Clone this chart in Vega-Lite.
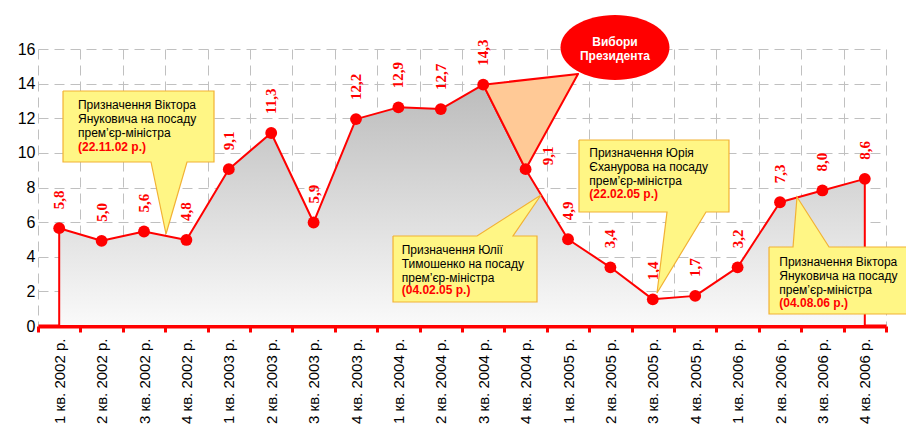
{
  "$schema": "https://vega.github.io/schema/vega-lite/v6.json",
  "width": 848,
  "height": 277,
  "autosize": "none",
  "padding": {"left": 38, "top": 49, "right": 20, "bottom": 99},
  "background": "white",
  "config": {
    "view": {"stroke": null},
    "font": "Liberation Sans",
    "axisY": {
      "title": null, "tickCount": 8,
      "grid": true, "gridColor": "#c0c0c0", "gridDash": [10, 6], "gridWidth": 1,
      "domain": false, "ticks": false, "labelOverlap": false,
      "labelFontSize": 16, "labelColor": "#000000", "labelPadding": 3,
      "labelFont": "Liberation Sans"
    }
  },
  "datasets": {
    "series": [
      {"q": "1 кв. 2002 р.", "value": 5.65, "label": "5,8"},
      {"q": "2 кв. 2002 р.", "value": 4.92, "label": "5,0"},
      {"q": "3 кв. 2002 р.", "value": 5.46, "label": "5,6"},
      {"q": "4 кв. 2002 р.", "value": 4.97, "label": "4,8"},
      {"q": "1 кв. 2003 р.", "value": 9.06, "label": "9,1"},
      {"q": "2 кв. 2003 р.", "value": 11.15, "label": "11,3"},
      {"q": "3 кв. 2003 р.", "value": 5.98, "label": "5,9"},
      {"q": "4 кв. 2003 р.", "value": 11.95, "label": "12,2"},
      {"q": "1 кв. 2004 р.", "value": 12.63, "label": "12,9"},
      {"q": "2 кв. 2004 р.", "value": 12.53, "label": "12,7"},
      {"q": "3 кв. 2004 р.", "value": 13.94, "label": "14,3"},
      {"q": "4 кв. 2004 р.", "value": 9.06, "label": "9,1"},
      {"q": "1 кв. 2005 р.", "value": 5.01, "label": "4,9"},
      {"q": "2 кв. 2005 р.", "value": 3.39, "label": "3,4"},
      {"q": "3 кв. 2005 р.", "value": 1.54, "label": "1,4"},
      {"q": "4 кв. 2005 р.", "value": 1.74, "label": "1,7"},
      {"q": "1 кв. 2006 р.", "value": 3.39, "label": "3,2"},
      {"q": "2 кв. 2006 р.", "value": 7.15, "label": "7,3"},
      {"q": "3 кв. 2006 р.", "value": 7.83, "label": "8,0"},
      {"q": "4 кв. 2006 р.", "value": 8.5, "label": "8,6"}
    ],
    "callouts": [
      {"id": "c1", "o": 0, "x": 0.59, "y": 13.574},
      {"id": "c1", "o": 1, "x": 4.151, "y": 13.574},
      {"id": "c1", "o": 2, "x": 4.151, "y": 9.473},
      {"id": "c1", "o": 3, "x": 3.514, "y": 9.473},
      {"id": "c1", "o": 4, "x": 3.019, "y": 5.314},
      {"id": "c1", "o": 5, "x": 2.665, "y": 9.473},
      {"id": "c1", "o": 6, "x": 0.59, "y": 9.473},
      {"id": "c1", "o": 7, "x": 0.59, "y": 13.574},
      {"id": "c2", "o": 0, "x": 8.373, "y": 5.199},
      {"id": "c2", "o": 1, "x": 10.354, "y": 5.199},
      {"id": "c2", "o": 2, "x": 11.863, "y": 7.567},
      {"id": "c2", "o": 3, "x": 11.203, "y": 5.199},
      {"id": "c2", "o": 4, "x": 11.769, "y": 5.199},
      {"id": "c2", "o": 5, "x": 11.769, "y": 1.386},
      {"id": "c2", "o": 6, "x": 8.373, "y": 1.386},
      {"id": "c2", "o": 7, "x": 8.373, "y": 5.199},
      {"id": "c3", "o": 0, "x": 12.759, "y": 10.744},
      {"id": "c3", "o": 1, "x": 16.297, "y": 10.744},
      {"id": "c3", "o": 2, "x": 16.297, "y": 6.585},
      {"id": "c3", "o": 3, "x": 15.755, "y": 6.585},
      {"id": "c3", "o": 4, "x": 14.599, "y": 1.906},
      {"id": "c3", "o": 5, "x": 14.835, "y": 6.585},
      {"id": "c3", "o": 6, "x": 12.759, "y": 6.585},
      {"id": "c3", "o": 7, "x": 12.759, "y": 10.744},
      {"id": "c4", "o": 0, "x": 17.241, "y": 4.563},
      {"id": "c4", "o": 1, "x": 17.807, "y": 4.563},
      {"id": "c4", "o": 2, "x": 17.901, "y": 7.451},
      {"id": "c4", "o": 3, "x": 18.656, "y": 4.563},
      {"id": "c4", "o": 4, "x": 20.566, "y": 4.563},
      {"id": "c4", "o": 5, "x": 20.566, "y": 0.693},
      {"id": "c4", "o": 6, "x": 17.241, "y": 0.693},
      {"id": "c4", "o": 7, "x": 17.241, "y": 4.563}
    ],
    "triangle": [
      {"o": 0, "x": 10.5, "y": 13.94},
      {"o": 1, "x": 11.5, "y": 9.06},
      {"o": 2, "x": 12.736, "y": 14.556},
      {"o": 3, "x": 10.5, "y": 13.94}
    ],
    "one": [{}]
  },
  "resolve": {"scale": {"x": "independent"}},
  "layer": [
    {
      "data": {"name": "series"},
      "mark": {
        "type": "area",
        "stroke": "#FF0000",
        "strokeWidth": 2,
        "strokeJoin": "round",
        "fill": {
          "gradient": "linear",
          "x1": 0, "y1": 0, "x2": 0, "y2": 1,
          "stops": [
            {"offset": 0, "color": "#bcbcbc"},
            {"offset": 1, "color": "#fafafa"}
          ]
        }
      },
      "encoding": {
        "x": {"field": "q", "type": "ordinal", "sort": null, "scale": {"type": "point", "padding": 0.5}, "axis": null},
        "y": {"field": "value", "type": "quantitative", "scale": {"domain": [0, 16], "nice": false, "zero": true}}
      }
    },
    {
      "data": {"name": "triangle"},
      "mark": {"type": "line", "fill": "#FFC996", "stroke": "#FF0000", "strokeWidth": 2, "strokeJoin": "round"},
      "encoding": {
        "x": {"field": "x", "type": "quantitative", "scale": {"domain": [0, 20], "nice": false, "zero": false}, "axis": null},
        "y": {"field": "y", "type": "quantitative", "scale": {"domain": [0, 16], "nice": false}},
        "order": {"field": "o", "type": "quantitative"}
      }
    },
    {
      "data": {"name": "series"},
      "mark": {"type": "circle", "size": 140, "color": "#FF0000", "opacity": 1},
      "encoding": {
        "x": {
          "field": "q", "type": "ordinal", "sort": null,
          "scale": {"type": "band", "paddingInner": 0, "paddingOuter": 0},
          "axis": {
            "title": null, "tickBand": "extent",
            "grid": true, "gridColor": "#c0c0c0", "gridDash": [10, 6], "gridWidth": 1,
            "domainColor": "#FF0000", "domainWidth": 4,
            "tickColor": "#FF0000", "tickWidth": 3, "tickSize": 6,
            "labelAngle": 270, "labelAlign": "right", "labelBaseline": "middle",
            "labelFontSize": 15, "labelColor": "#000000", "labelPadding": 6,
            "labelFont": "Liberation Sans", "labelOverlap": false
          }
        },
        "y": {"field": "value", "type": "quantitative", "scale": {"domain": [0, 16], "nice": false}}
      }
    },
    {
      "data": {"name": "series"},
      "mark": {"type": "text", "angle": 270, "align": "left", "baseline": "middle", "dx": 19, "font": "Liberation Serif", "fontSize": 15, "fontWeight": "bold", "color": "#FF0000"},
      "encoding": {
        "x": {"field": "q", "type": "ordinal", "sort": null, "scale": {"type": "band", "paddingInner": 0, "paddingOuter": 0}, "axis": null},
        "y": {"field": "value", "type": "quantitative", "scale": {"domain": [0, 16], "nice": false}},
        "text": {"condition": {"test": "datum.q === '4 кв. 2004 р.'", "value": ""}, "field": "label"}
      }
    },
    {
      "data": {"name": "series"},
      "mark": {"type": "text", "angle": 270, "align": "left", "baseline": "middle", "dx": 4, "dy": 22, "font": "Liberation Serif", "fontSize": 15, "fontWeight": "bold", "color": "#FF0000"},
      "encoding": {
        "x": {"field": "q", "type": "ordinal", "sort": null, "scale": {"type": "band", "paddingInner": 0, "paddingOuter": 0}, "axis": null},
        "y": {"field": "value", "type": "quantitative", "scale": {"domain": [0, 16], "nice": false}},
        "text": {"condition": {"test": "datum.q !== '4 кв. 2004 р.'", "value": ""}, "field": "label"}
      }
    },
    {
      "data": {"name": "callouts"},
      "mark": {"type": "line", "fill": "#FFF685", "stroke": "#F2B134", "strokeWidth": 1.2},
      "encoding": {
        "x": {"field": "x", "type": "quantitative", "scale": {"domain": [0, 20], "nice": false, "zero": false}, "axis": null},
        "y": {"field": "y", "type": "quantitative", "scale": {"domain": [0, 16], "nice": false}},
        "detail": {"field": "id"},
        "order": {"field": "o", "type": "quantitative"}
      }
    },
    {
      "data": {"name": "one"},
      "layer": [
        {
          "mark": {"type": "text", "text": ["Призначення Віктора", "Януковича на посаду", "прем’єр-міністра"], "align": "left", "baseline": "alphabetic", "fontSize": 12, "lineHeight": 13.8, "color": "#000000"},
          "encoding": {"x": {"datum": 0.943, "type": "quantitative"}, "y": {"datum": 12.517, "type": "quantitative"}}
        },
        {
          "mark": {"type": "text", "text": "(22.11.02 р.)", "align": "left", "baseline": "alphabetic", "fontSize": 12, "fontWeight": "bold", "color": "#FF0000"},
          "encoding": {"x": {"datum": 0.943, "type": "quantitative"}, "y": {"datum": 10.108, "type": "quantitative"}}
        },
        {
          "mark": {"type": "text", "text": ["Призначення Юлії", "Тимошенко на посаду", "прем’єр-міністра"], "align": "left", "baseline": "alphabetic", "fontSize": 12, "lineHeight": 13.8, "color": "#000000"},
          "encoding": {"x": {"datum": 8.578, "type": "quantitative"}, "y": {"datum": 4.159, "type": "quantitative"}}
        },
        {
          "mark": {"type": "text", "text": "(04.02.05 р.)", "align": "left", "baseline": "alphabetic", "fontSize": 12, "fontWeight": "bold", "color": "#FF0000"},
          "encoding": {"x": {"datum": 8.578, "type": "quantitative"}, "y": {"datum": 1.82, "type": "quantitative"}}
        },
        {
          "mark": {"type": "text", "text": ["Призначення Юрія", "Єханурова на посаду", "прем’єр-міністра"], "align": "left", "baseline": "alphabetic", "fontSize": 12, "lineHeight": 13.8, "color": "#000000"},
          "encoding": {"x": {"datum": 13.002, "type": "quantitative"}, "y": {"datum": 9.744, "type": "quantitative"}}
        },
        {
          "mark": {"type": "text", "text": "(22.02.05 р.)", "align": "left", "baseline": "alphabetic", "fontSize": 12, "fontWeight": "bold", "color": "#FF0000"},
          "encoding": {"x": {"datum": 13.002, "type": "quantitative"}, "y": {"datum": 7.376, "type": "quantitative"}}
        },
        {
          "mark": {"type": "text", "text": ["Призначення Віктора", "Януковича на посаду", "прем’єр-міністра"], "align": "left", "baseline": "alphabetic", "fontSize": 12, "lineHeight": 13.8, "color": "#000000"},
          "encoding": {"x": {"datum": 17.483, "type": "quantitative"}, "y": {"datum": 3.466, "type": "quantitative"}}
        },
        {
          "mark": {"type": "text", "text": "(04.08.06 р.)", "align": "left", "baseline": "alphabetic", "fontSize": 12, "fontWeight": "bold", "color": "#FF0000"},
          "encoding": {"x": {"datum": 17.483, "type": "quantitative"}, "y": {"datum": 1.08, "type": "quantitative"}}
        },
        {
          "mark": {"type": "point", "shape": "M -1 0 C -1 -0.329 -0.552 -0.596 0 -0.596 C 0.552 -0.596 1 -0.329 1 0 C 1 0.329 0.552 0.596 0 0.596 C -0.552 0.596 -1 0.329 -1 0 Z", "size": 11881, "filled": true, "fill": "#FF0000", "strokeWidth": 0, "opacity": 1},
          "encoding": {"x": {"datum": 13.608, "type": "quantitative"}, "y": {"datum": 16.087, "type": "quantitative"}}
        },
        {
          "mark": {"type": "text", "text": ["Вибори", "Президента"], "align": "center", "baseline": "alphabetic", "fontSize": 12, "fontWeight": "bold", "lineHeight": 14, "color": "#FFFFFF"},
          "encoding": {"x": {"datum": 13.608, "type": "quantitative"}, "y": {"datum": 16.173, "type": "quantitative"}}
        }
      ],
      "encoding": {
        "x": {"type": "quantitative", "scale": {"domain": [0, 20], "nice": false, "zero": false}, "axis": null},
        "y": {"type": "quantitative", "scale": {"domain": [0, 16], "nice": false}}
      }
    }
  ]
}
